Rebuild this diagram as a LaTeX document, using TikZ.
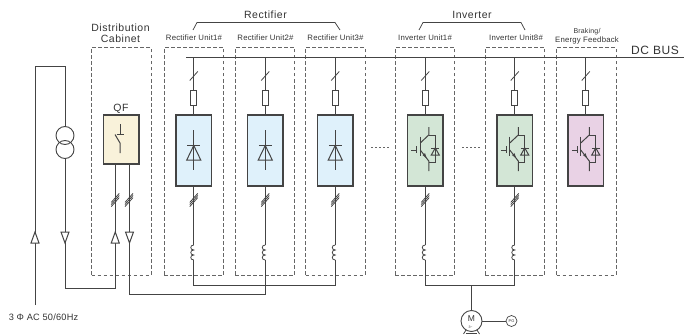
\documentclass[tikz,border=0pt]{standalone}
\usepackage{fontspec}
\setmainfont{Liberation Sans}
\newfontfamily\spaceda[LetterSpace=5]{Liberation Sans}
\newfontfamily\spacedb[LetterSpace=2.5]{Liberation Sans}
\tikzset{
  wire/.style={draw=wirecol,line width=1pt,line join=miter},
  thin wire/.style={draw=wirecol,line width=0.8pt},
  dashbox/.style={draw=dashcol,line width=0.95pt,dash pattern=on 3.6pt off 2.4pt,rectangle,inner sep=0pt},
  block/.style={draw=wirecol,line width=1.1pt,rectangle,inner sep=0pt,minimum width=35.5pt},
  fuse/.style={draw=wirecol,line width=0.9pt,rectangle,inner sep=0pt,minimum width=6pt,minimum height=15pt},
  lbl/.style={inner sep=0pt,text=textcol,font=\spaceda\fontsize{10.5}{12}\selectfont,align=center},
  small lbl/.style={inner sep=0pt,text=textcol,font=\spacedb\fontsize{7.8}{9}\selectfont,align=center},
  ring/.style={draw=wirecol,line width=0.9pt,circle,inner sep=0pt,fill=none},
}
\definecolor{wirecol}{HTML}{444444}
\definecolor{dashcol}{HTML}{666666}
\definecolor{textcol}{HTML}{333333}
\definecolor{rectfill}{HTML}{DFF1FB}
\definecolor{invfill}{HTML}{D3E6D6}
\definecolor{brakefill}{HTML}{E9D2E5}
\definecolor{qffill}{HTML}{F9F2DA}
% single slash
\newcommand\oneslash[2]{\draw[thin wire] (#1-4,#2+4.5) -- (#1+4,#2-4.5);}
% triple slash
\newcommand\trislash[2]{\foreach \d in {-2.1,0,2.1}{\draw[thin wire] (#1-4,#2+4.5+\d) -- (#1+4,#2-4.5+\d);}}
% open triangle: x, apex y, base y
\newcommand\opentri[3]{\draw[wire,fill=white] (#1,#2) -- (#1-4,#3) -- (#1+4,#3) -- cycle;}
% upper part of a unit: name, x, fill
\newcommand\upperpart[3]{
  \coordinate (#1top) at (#2,57.5);
  \node[fuse] (#1fuse) at (#2,97.5) {};
  \node[block,fill=#3,minimum height=71pt] (#1blk) at (#2,150.5) {};
  \draw[wire] (#1top) -- (#1fuse);
  \draw[wire] (#1fuse) -- (#1blk);
  \oneslash{#2}{76}
}
% lower part: name, x
\newcommand\lowerpart[2]{
  \coordinate (#1coilT) at (#2,245);
  \coordinate (#1coilB) at (#2,260);
  \draw[wire] (#1blk) -- (#1coilT);
  \draw[thin wire] (#1coilT)
     .. controls (#2-4,245) and (#2-4,250) .. (#2,250)
     .. controls (#2-4,250) and (#2-4,255) .. (#2,255)
     .. controls (#2-4,255) and (#2-4,260) .. (#1coilB);
  \trislash{#2}{200}
}
\newcommand\diodesym[1]{
  \draw[wire] (#1,130) -- (#1,170);
  \draw[wire] (#1-6.5,145.5) -- (#1+6.5,145.5);
  \draw[wire] (#1,145.5) -- (#1-7,160) -- (#1+7,160) -- cycle;
}
\newcommand\igbtsym[1]{
  \draw[wire] (#1-14,150) -- (#1-8.5,150);
  \draw[wire] (#1-8.5,146) -- (#1-8.5,153);
  \draw[wire] (#1-5,136.5) -- (#1-5,156);
  \draw[wire] (#1-5,143) -- (#1+3.5,135) -- (#1+3.5,127);
  \draw[wire] (#1-5,150) -- (#1+3.5,161) -- (#1+3.5,171);
  \fill[wirecol] (#1+1.5,158.4) -- (#1-2.6,155.2) -- (#1-0.2,153.2) -- cycle;
  \draw[wire] (#1+3.5,135) -- (#1+10,135) -- (#1+10,162) -- (#1+3.5,162);
  \draw[wire] (#1+10,148) -- (#1+6,155) -- (#1+14,155) -- cycle;
  \draw[wire] (#1+6,148) -- (#1+14,148);
}
\begin{document}
\begin{tikzpicture}[x=1pt,y=-1pt]
\useasboundingbox (0,0) rectangle (684,334);
% dashed enclosures
\node[dashbox,minimum width=59.5pt,minimum height=227.5pt] (cab) at (121.25,161.25) {};
\node[dashbox,minimum width=59.5pt,minimum height=227.5pt] (box1) at (193.75,161.25) {};
\node[dashbox,minimum width=59.5pt,minimum height=227.5pt] (box2) at (265,161.25) {};
\node[dashbox,minimum width=59.5pt,minimum height=227.5pt] (box3) at (335.25,161.25) {};
\node[dashbox,minimum width=59.5pt,minimum height=227.5pt] (box4) at (425,161.25) {};
\node[dashbox,minimum width=59.5pt,minimum height=227.5pt] (box5) at (514.75,161.25) {};
\node[dashbox,minimum width=59.5pt,minimum height=227.5pt] (box6) at (586.25,161.25) {};
% DC bus
\coordinate (busL) at (186,57.5);
\coordinate (busR) at (684,57.5);
\draw[wire] (busL) -- (busR);
% units
\upperpart{ra}{193.75}{rectfill}
\upperpart{rb}{265.25}{rectfill}
\upperpart{rc}{335.25}{rectfill}
\upperpart{ia}{425.25}{invfill}
\upperpart{ib}{514.75}{invfill}
\upperpart{bk}{585.75}{brakefill}
\diodesym{193.75}
\diodesym{265.25}
\diodesym{335.25}
\igbtsym{425.25}
\igbtsym{514.75}
\igbtsym{585.75}
\lowerpart{ra}{193.75}
\lowerpart{rb}{265.25}
\lowerpart{rc}{335.25}
\lowerpart{ia}{425.25}
\lowerpart{ib}{514.75}
% QF
\node[block,fill=qffill,minimum height=49pt] (qf) at (121.25,139.5) {};
\draw[wire] (120,124) -- (120,134);
\draw[wire] (116.5,134) -- (124,134);
\draw[wire] (115,134.5) -- (120,143) -- (120,153);
% transformer
\coordinate (ltop) at (35,67);
\coordinate (ltopr) at (65,67);
\node[ring,minimum size=18pt] (t1) at (65,135.5) {};
\node[ring,minimum size=18pt] (t2) at (65,149.5) {};
\coordinate (acin) at (35,305);
\draw[wire] (acin) -- (ltop) -- (ltopr) -- (t1);
\coordinate (tb) at (65,288);
\coordinate (qb) at (115.25,288);
\draw[wire] (t2) -- (tb) -- (qb) -- (115.25,164);
\coordinate (qc) at (129,294);
\coordinate (qd) at (129,164);
\draw[wire] (qd) -- (qc) -- (rbcoilB |- qc) -- (rbcoilB);
% triangles
\opentri{35}{232}{243}
\opentri{65}{243}{232}
\opentri{115.25}{232}{243}
\opentri{129.5}{243}{232}
\trislash{115.25}{200}
\trislash{129}{200}
% junctions
\coordinate (rj) at (193.75,285);
\coordinate (rk) at (335.25,285);
\draw[wire] (racoilB) -- (rj) -- (rk) -- (rccoilB);
\coordinate (ij) at (425.25,285);
\coordinate (ik) at (514.75,285);
\draw[wire] (iacoilB) -- (ij) -- (ik) -- (ibcoilB);
% motor
\coordinate (mj) at (471.5,285);
\node[ring,minimum size=21pt] (mot) at (471.5,321) {};
\node[ring,minimum size=11pt,line width=0.7pt] (pg) at (511.5,321) {};
\node[inner sep=0pt,text=textcol,font=\fontsize{8.5}{9}\selectfont] (mtxt) at (471.5,319) {M};
\node[inner sep=0pt,text=textcol,font=\fontsize{3.5}{4}\selectfont] (mph) at (470.5,327) {3\textasciitilde};
\node[inner sep=0pt,text=textcol,font=\fontsize{4}{4}\selectfont] (pgt) at (511.5,321) {PG};
\draw[wire] (mj) -- (mot);
\draw[wire] (mot) -- (pg);
\draw[thin wire] (463.5,334) -- (466,330);
\draw[thin wire] (479.5,334) -- (477,330);
\draw[thin wire] (466,333) -- (477,333);
% ellipsis
\coordinate (ea) at (371,147);
\coordinate (eb) at (389,147);
\coordinate (ec) at (462,147);
\coordinate (ed) at (480,147);
\draw[dashcol,line width=0.8pt,dash pattern=on 2pt off 2pt] (ea) -- (eb);
\draw[dashcol,line width=0.8pt,dash pattern=on 2pt off 2pt] (ec) -- (ed);
% brackets
\draw[wire,line width=0.75pt] (193,30) -- (197,22.5) -- (335,22.5) -- (340,30);
\draw[wire,line width=0.75pt] (419,30) -- (423,22.5) -- (521,22.5) -- (525,30);
% labels
\node[lbl] (tdist) at (120.5,28) {Distribution};
\node[lbl] (tcab) at (120.5,39) {Cabinet};
\node[lbl] (tqf) at (121,108.5) {QF};
\node[lbl] (trect) at (265.5,14.5) {Rectifier};
\node[lbl] (tinv) at (472,14.5) {Inverter};
\node[small lbl] (u1) at (194,37.5) {Rectifier Unit1\#};
\node[small lbl] (u2) at (265.5,37.5) {Rectifier Unit2\#};
\node[small lbl] (u3) at (335.5,37.5) {Rectifier Unit3\#};
\node[small lbl] (u4) at (425,37.5) {Inverter Unit1\#};
\node[small lbl] (u5) at (516,37.5) {Inverter Unit8\#};
\node[small lbl,font=\spacedb\fontsize{7}{8}\selectfont] (u6a) at (587,32) {Braking/};
\node[small lbl,font=\spacedb\fontsize{7.8}{8}\selectfont] (u6b) at (587,40.5) {Energy Feedback};
\node[inner sep=0pt,text=textcol,font=\spaceda\fontsize{12}{13}\selectfont] (dcb) at (655,50.5) {DC\hspace{4pt}BUS};
\node[small lbl,font=\spacedb\fontsize{9.2}{10}\selectfont] (acl) at (43.5,317) {3 Φ AC 50/60Hz};
\end{tikzpicture}
\end{document}
